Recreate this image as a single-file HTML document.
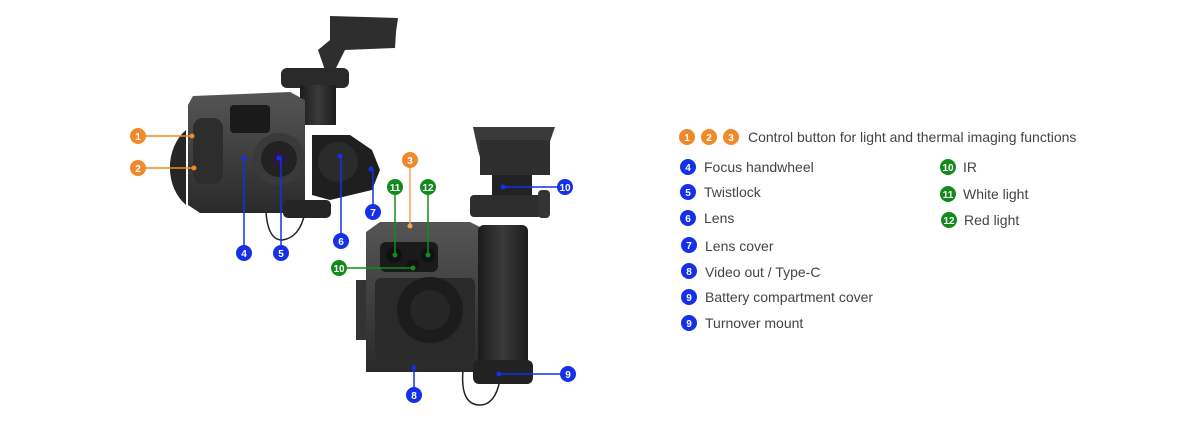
<!DOCTYPE html>
<html><head><meta charset="utf-8"><style>
html,body{margin:0;padding:0;background:#fff}
svg{display:block}
text{font-family:"Liberation Sans",sans-serif}
.lg{font-size:14px;fill:#444}
.n{font-size:10px;font-weight:bold;fill:#fff;text-anchor:middle}
</style></head><body>
<svg width="1200" height="438" viewBox="0 0 1200 438" xmlns="http://www.w3.org/2000/svg">
<defs>
<linearGradient id="g1" x1="0" y1="0" x2="0" y2="1"><stop offset="0" stop-color="#555"/><stop offset="1" stop-color="#2a2a2a"/></linearGradient>
<linearGradient id="g2" x1="0" y1="0" x2="1" y2="0"><stop offset="0" stop-color="#1c1c1c"/><stop offset=".5" stop-color="#3a3a3a"/><stop offset="1" stop-color="#1c1c1c"/></linearGradient>
</defs>
<!-- LEFT DEVICE -->
<path d="M330 16 L398 18 L396 32 L395 48 L345 50 L335 70 L325 70 L318 50 L330 40 Z" fill="#2e2e2e"/>
<rect x="281" y="68" width="68" height="20" rx="6" fill="#2a2a2a"/>
<rect x="300" y="85" width="36" height="40" fill="url(#g2)"/>
<path d="M186 130 A36 45 0 0 0 186 205 Z" fill="#262626"/>
<path d="M193 96 L290 92 L305 100 L305 205 L295 213 L200 213 L188 205 L188 105 Z" fill="url(#g1)"/>
<rect x="193" y="118" width="30" height="66" rx="10" fill="#2d2d2d"/>
<rect x="230" y="105" width="40" height="28" rx="4" fill="#1a1a1a"/>
<circle cx="279" cy="159" r="26" fill="#3a3a3a"/>
<circle cx="279" cy="159" r="18" fill="#222"/>
<circle cx="279" cy="159" r="8" fill="#2a1a3a"/>
<path d="M312 135 L350 135 L372 150 L380 170 L372 190 L330 200 L312 195 Z" fill="#1f1f1f"/>
<circle cx="338" cy="162" r="20" fill="#2b2b2b"/>
<rect x="283" y="200" width="48" height="18" rx="5" fill="#252525"/>
<path d="M266 212 Q268 240 282 240 Q300 238 305 212" fill="none" stroke="#222" stroke-width="1.5"/>
<!-- RIGHT DEVICE -->
<path d="M473 127 L555 127 L547 150 L540 175 L485 175 L478 150 Z" fill="#3a3a3a"/>
<rect x="480" y="140" width="70" height="35" fill="#2e2e2e"/>
<rect x="492" y="175" width="40" height="20" fill="#222"/>
<rect x="470" y="195" width="72" height="22" rx="4" fill="#2e2e2e"/>
<rect x="538" y="190" width="12" height="28" rx="4" fill="#333"/>
<path d="M366 232 L380 222 L470 222 L490 232 L490 372 L366 372 Z" fill="url(#g1)"/>
<rect x="356" y="280" width="10" height="60" fill="#333"/>
<rect x="380" y="242" width="58" height="30" rx="6" fill="#1a1a1a"/>
<circle cx="394" cy="255" r="8" fill="#111"/><circle cx="428" cy="255" r="7" fill="#111"/><circle cx="413" cy="265" r="6" fill="#111"/>
<rect x="375" y="278" width="100" height="82" rx="6" fill="#2a2a2a"/>
<circle cx="430" cy="310" r="33" fill="#1c1c1c"/>
<circle cx="430" cy="310" r="20" fill="#262626"/>
<rect x="478" y="225" width="50" height="145" rx="6" fill="url(#g2)"/>
<rect x="473" y="360" width="60" height="24" rx="6" fill="#222"/>
<path d="M463 370 Q460 405 480 405 Q495 405 500 380" fill="none" stroke="#222" stroke-width="1.5"/>
<!-- CONNECTORS -->
<g stroke-width="1.5" fill="none">
<path d="M138 136 H192" stroke="#f0892a"/><path d="M138 168 H194" stroke="#f0892a"/>
<path d="M410 160 V226" stroke="#f5a35a"/>
<path d="M244 253 V158" stroke="#1530e8"/><path d="M281 253 V158" stroke="#1530e8"/>
<path d="M341 241 V156" stroke="#1530e8"/><path d="M373 212 V169" stroke="#1530e8"/>
<path d="M414 395 V368" stroke="#1530e8"/><path d="M568 374 H499" stroke="#1530e8"/>
<path d="M565 187 H503" stroke="#1530e8"/>
<path d="M395 187 V255" stroke="#138a1e"/><path d="M428 187 V255" stroke="#138a1e"/>
<path d="M339 268 H413" stroke="#138a1e"/>
</g>
<g>
<circle cx="192" cy="136" r="2.5" fill="#f0892a"/><circle cx="194" cy="168" r="2.5" fill="#f0892a"/><circle cx="410" cy="226" r="2.5" fill="#f5a35a"/>
<circle cx="244" cy="158" r="2.5" fill="#1530e8"/><circle cx="279" cy="158" r="2.5" fill="#1530e8"/><circle cx="340" cy="156" r="2.5" fill="#1530e8"/><circle cx="371" cy="169" r="2.5" fill="#1530e8"/><circle cx="414" cy="368" r="2.5" fill="#1530e8"/><circle cx="499" cy="374" r="2.5" fill="#1530e8"/><circle cx="503" cy="187" r="2.5" fill="#1530e8"/>
<circle cx="395" cy="255" r="2.5" fill="#138a1e"/><circle cx="428" cy="255" r="2.5" fill="#138a1e"/><circle cx="413" cy="268" r="2.5" fill="#138a1e"/>
</g>
<!-- BADGES -->
<g>
<circle cx="138" cy="136" r="8" fill="#f0892a"/><text class="n" x="138" y="140">1</text>
<circle cx="138" cy="168" r="8" fill="#f0892a"/><text class="n" x="138" y="172">2</text>
<circle cx="410" cy="160" r="8" fill="#f0892a"/><text class="n" x="410" y="164">3</text>
<circle cx="244" cy="253" r="8" fill="#1530e8"/><text class="n" x="244" y="257">4</text>
<circle cx="281" cy="253" r="8" fill="#1530e8"/><text class="n" x="281" y="257">5</text>
<circle cx="341" cy="241" r="8" fill="#1530e8"/><text class="n" x="341" y="245">6</text>
<circle cx="373" cy="212" r="8" fill="#1530e8"/><text class="n" x="373" y="216">7</text>
<circle cx="414" cy="395" r="8" fill="#1530e8"/><text class="n" x="414" y="399">8</text>
<circle cx="568" cy="374" r="8" fill="#1530e8"/><text class="n" x="568" y="378">9</text>
<circle cx="565" cy="187" r="8" fill="#1530e8"/><text class="n" x="565" y="191">10</text>
<circle cx="395" cy="187" r="8" fill="#138a1e"/><text class="n" x="395" y="191">11</text>
<circle cx="428" cy="187" r="8" fill="#138a1e"/><text class="n" x="428" y="191">12</text>
<circle cx="339" cy="268" r="8" fill="#138a1e"/><text class="n" x="339" y="272">10</text>
</g>
<!-- LEGEND -->
<g>
<circle cx="687" cy="137" r="8" fill="#f0892a"/><text class="n" x="687" y="141">1</text>
<circle cx="709" cy="137" r="8" fill="#f0892a"/><text class="n" x="709" y="141">2</text>
<circle cx="731" cy="137" r="8" fill="#f0892a"/><text class="n" x="731" y="141">3</text>
<text class="lg" x="748" y="142">Control button for light and thermal imaging functions</text>
<circle cx="688" cy="167" r="8" fill="#1530e8"/><text class="n" x="688" y="171">4</text><text class="lg" x="704" y="172">Focus handwheel</text>
<circle cx="688" cy="192" r="8" fill="#1530e8"/><text class="n" x="688" y="196">5</text><text class="lg" x="704" y="197">Twistlock</text>
<circle cx="688" cy="218" r="8" fill="#1530e8"/><text class="n" x="688" y="222">6</text><text class="lg" x="704" y="223">Lens</text>
<circle cx="689" cy="245" r="8" fill="#1530e8"/><text class="n" x="689" y="249">7</text><text class="lg" x="705" y="251">Lens cover</text>
<circle cx="689" cy="271" r="8" fill="#1530e8"/><text class="n" x="689" y="275">8</text><text class="lg" x="705" y="277">Video out / Type-C</text>
<circle cx="689" cy="297" r="8" fill="#1530e8"/><text class="n" x="689" y="301">9</text><text class="lg" x="705" y="302">Battery compartment cover</text>
<circle cx="689" cy="323" r="8" fill="#1530e8"/><text class="n" x="689" y="327">9</text><text class="lg" x="705" y="328">Turnover mount</text>
<circle cx="948" cy="167" r="8" fill="#138a1e"/><text class="n" x="948" y="171">10</text><text class="lg" x="963" y="172">IR</text>
<circle cx="948" cy="194" r="8" fill="#138a1e"/><text class="n" x="948" y="198">11</text><text class="lg" x="963" y="199">White light</text>
<circle cx="949" cy="220" r="8" fill="#138a1e"/><text class="n" x="949" y="224">12</text><text class="lg" x="964" y="225">Red light</text>
</g>
</svg>
</body></html>
